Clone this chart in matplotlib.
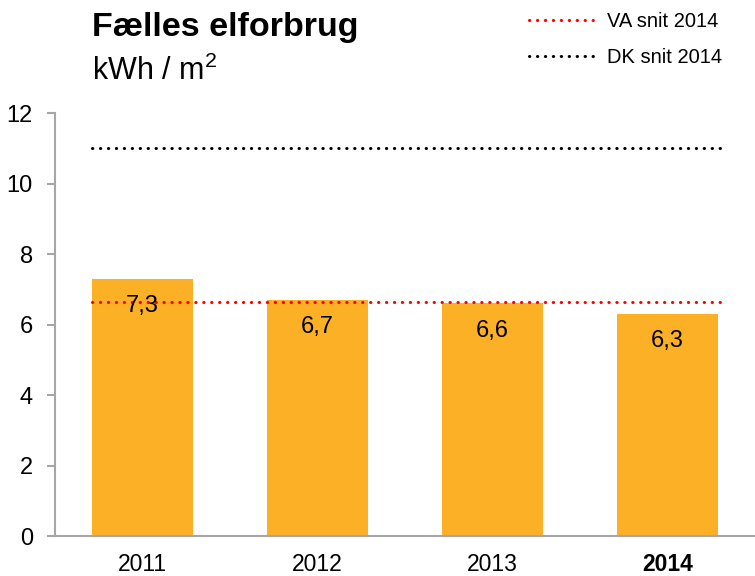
import numpy as np
import matplotlib.pyplot as plt
from matplotlib.lines import Line2D

plt.rcParams['font.family'] = ['Liberation Sans', 'DejaVu Sans']
plt.rcParams['mathtext.fontset'] = 'custom'
plt.rcParams['mathtext.rm'] = 'Liberation Sans'

years = ['2011', '2012', '2013', '2014']
values = [7.3, 6.7, 6.6, 6.3]
va_avg = 6.65
dk_avg = 11.0

bar_color = '#FBB026'
axis_gray = '#A6A6A6'

fig = plt.figure(figsize=(7.55, 5.76), dpi=100)
ax = fig.add_axes([0.073, 0.0694, 0.927, 0.7344])

x = np.arange(len(years))
ax.bar(x, values, width=0.58, color=bar_color, zorder=1)

# average lines
dot = (0, (0.1, 2.5))
ax.plot([-0.29, 3.31], [va_avg, va_avg], color='#FF0000', lw=2.2,
        linestyle=dot, dash_capstyle='round', zorder=3)
ax.plot([-0.29, 3.31], [dk_avg, dk_avg], color='black', lw=2.2,
        linestyle=dot, dash_capstyle='round', zorder=3)

for xi, v in zip(x, values):
    ax.text(xi, v - 0.78, f'{v:.1f}'.replace('.', ','), ha='center', va='center',
            fontsize=17, color='black', zorder=4)

ax.set_xlim(-0.5, 3.5)
ax.set_ylim(0, 12)
ax.set_yticks(range(0, 13, 2))
ax.set_xticks(x)
ax.set_xticklabels(years, fontsize=16.5)
ax.get_xticklabels()[-1].set_fontweight('bold')
ax.tick_params(axis='y', labelsize=17, length=6, color=axis_gray, width=1.5, pad=10)
ax.tick_params(axis='x', length=0, pad=12)

for s in ['top', 'right']:
    ax.spines[s].set_visible(False)
for s in ['left', 'bottom']:
    ax.spines[s].set_color(axis_gray)
    ax.spines[s].set_linewidth(1.5)

fig.text(0.122, 0.952, 'Fælles elforbrug', fontsize=24.5, fontweight='bold',
         ha='left', va='center')
fig.text(0.122, 0.876, 'kWh / m$^{2}$', fontsize=22, ha='left', va='center')

handles = [Line2D([], [], color='#FF0000', lw=2.2, linestyle=dot, dash_capstyle='round'),
           Line2D([], [], color='black', lw=2.2, linestyle=dot, dash_capstyle='round')]
fig.legend(handles, ['VA snit 2014', 'DK snit 2014'], loc='upper right',
           bbox_to_anchor=(0.98, 1.01), frameon=False, fontsize=14.5,
           handlelength=3.3, handletextpad=0.55, labelspacing=0.85)

fig.savefig('out.png', dpi=100)
